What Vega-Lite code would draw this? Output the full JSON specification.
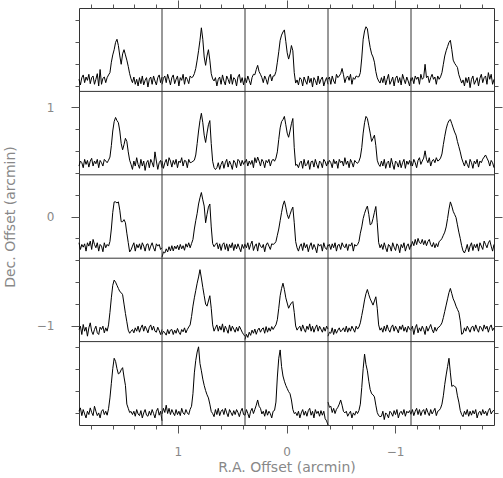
{
"$schema": "https://vega.github.io/schema/vega-lite/v6.json",
"width": 415, "height": 417,
"autosize": {"type": "none"},
"padding": {"left": 79, "top": 8, "right": 9, "bottom": 53},
"config": {
  "view": {"stroke": "#333", "strokeWidth": 1},
  "axis": {"labelColor": "#888", "titleColor": "#888", "tickColor": "#555", "labelFont": "DejaVu Sans", "titleFont": "DejaVu Sans", "labelFontSize": 12, "titleFontSize": 14, "titleFontWeight": "normal", "tickWidth": 1, "domain": false, "grid": false, "labelFlush": false, "labelOverlap": false}
},
"resolve": {"scale": {"x": "independent", "y": "independent"}, "axis": {"x": "independent", "y": "independent"}},
"layer": [
{
  "data": {"values": [
{"ra":1.53,"dec":1.53,"v":[0,1,2,3,4,5,6,7,8,9,10,11,12,13,14,15,16,17,18,19,20,21,22,23,24,25,26,27,28,29,30,31,32,33,34,35,36,37,38,39,40,41,42,43,44,45,46,47,48,49,50,51,52,53,54,55,56,57,58,59],"t":[0.08,-0.19,0.16,0.29,-0.08,0.19,0.03,0.32,-0.13,0.16,0.24,-0.16,0.08,0.35,-0.24,0.55,-0.16,0.13,0.19,-0.08,0.16,0.29,0.4,0.9,1.25,1.5,1.85,2.0,1.7,1.2,0.8,1.3,1.5,1.25,1.0,0.7,0.35,0.1,-0.08,0.19,-0.16,0.08,-0.24,0.16,-0.13,0.24,-0.19,0.03,0.16,-0.29,0.08,0.19,-0.16,0.24,0.0,-0.19,0.16,0.29,-0.08,0.19]},
{"ra":0.76,"dec":1.53,"v":[0,1,2,3,4,5,6,7,8,9,10,11,12,13,14,15,16,17,18,19,20,21,22,23,24,25,26,27,28,29,30,31,32,33,34,35,36,37,38,39,40,41,42,43,44,45,46,47,48,49,50,51,52,53,54,55,56,57,58,59],"t":[-0.16,0.13,0.24,-0.08,0.32,0.08,-0.19,0.16,0.29,-0.13,0.08,0.24,-0.24,0.16,0.03,0.32,-0.16,0.19,0.08,-0.13,0.24,0.16,0.2,0.35,0.6,1.0,1.45,1.95,2.55,2.0,1.15,0.75,1.2,1.5,1.0,0.35,0.1,0.0,0.16,-0.24,0.08,0.19,-0.16,0.29,0.0,-0.19,0.24,0.08,-0.13,0.32,-0.16,0.16,0.08,-0.24,0.19,0.32,-0.08,0.16,-0.19,0.13]},
{"ra":0,"dec":1.53,"v":[0,1,2,3,4,5,6,7,8,9,10,11,12,13,14,15,16,17,18,19,20,21,22,23,24,25,26,27,28,29,30,31,32,33,34,35,36,37,38,39,40,41,42,43,44,45,46,47,48,49,50,51,52,53,54,55,56,57,58,59],"t":[0.16,-0.08,0.24,0.03,-0.19,0.16,0.32,0.3,0.55,0.75,0.45,0.32,0.16,-0.08,0.24,0.08,-0.16,0.19,0.32,0.0,0.24,0.25,0.45,0.9,1.4,1.95,2.2,2.35,2.45,1.9,1.35,1.05,1.3,1.7,1.45,0.4,-0.1,0.05,-0.19,0.16,0.08,-0.24,0.19,0.0,-0.16,0.24,-0.08,0.13,-0.29,0.16,0.03,-0.19,0.24,-0.13,0.08,0.19,-0.24,0.0,0.16,-0.16]},
{"ra":-0.76,"dec":1.53,"v":[0,1,2,3,4,5,6,7,8,9,10,11,12,13,14,15,16,17,18,19,20,21,22,23,24,25,26,27,28,29,30,31,32,33,34,35,36,37,38,39,40,41,42,43,44,45,46,47,48,49,50,51,52,53,54,55,56,57,58,59],"t":[0.08,0.19,-0.16,0.24,0.0,-0.13,0.32,0.16,0.24,0.35,0.6,0.3,-0.08,0.16,0.24,0.03,0.32,-0.16,0.16,0.08,0.24,0.2,0.2,0.4,1.1,2.0,2.4,2.6,2.5,2.0,1.6,1.3,1.15,0.9,0.45,0.15,0.0,-0.1,0.16,-0.08,0.24,-0.19,0.08,0.32,-0.16,0.0,0.19,-0.24,0.13,0.24,-0.08,0.16,-0.19,0.32,0.08,-0.13,0.19,0.0,-0.24,0.16]},
{"ra":-1.53,"dec":1.53,"v":[0,1,2,3,4,5,6,7,8,9,10,11,12,13,14,15,16,17,18,19,20,21,22,23,24,25,26,27,28,29,30,31,32,33,34,35,36,37,38,39,40,41,42,43,44,45,46,47,48,49,50,51,52,53,54,55,56,57,58,59],"t":[0.0,0.16,-0.13,0.24,0.08,0.19,-0.16,0.32,0.08,0.16,0.8,0.16,0.24,-0.08,0.16,0.32,0.08,0.19,-0.16,0.24,0.08,0.2,0.4,0.8,1.2,1.45,1.65,1.85,1.95,1.5,1.0,0.85,0.75,0.65,0.3,0.1,-0.1,0.05,-0.24,0.16,-0.08,0.19,-0.32,0.08,0.24,-0.16,0.0,0.16,-0.24,0.13,0.32,-0.08,0.16,0.24,-0.16,0.4,0.08,0.32,-0.16,0.08]},
{"ra":1.53,"dec":0.76,"v":[0,1,2,3,4,5,6,7,8,9,10,11,12,13,14,15,16,17,18,19,20,21,22,23,24,25,26,27,28,29,30,31,32,33,34,35,36,37,38,39,40,41,42,43,44,45,46,47,48,49,50,51,52,53,54,55,56,57,58,59],"t":[-0.08,0.16,0.08,-0.16,0.24,0.0,0.19,-0.13,0.16,0.29,-0.08,0.16,0.03,0.24,-0.16,0.19,0.08,-0.08,0.24,0.16,0.08,0.2,0.35,0.9,1.6,2.05,2.25,2.1,2.0,1.6,1.0,0.7,0.95,1.25,1.1,0.6,0.2,0.0,-0.24,0.16,-0.08,0.32,0.0,-0.19,0.24,-0.08,0.16,-0.29,0.08,0.19,-0.16,0.24,0.08,-0.13,0.6,0.16,-0.24,0.08,0.19,-0.16]},
{"ra":0.76,"dec":0.76,"v":[0,1,2,3,4,5,6,7,8,9,10,11,12,13,14,15,16,17,18,19,20,21,22,23,24,25,26,27,28,29,30,31,32,33,34,35,36,37,38,39,40,41,42,43,44,45,46,47,48,49,50,51,52,53,54,55,56,57,58,59],"t":[0.16,-0.19,0.08,0.24,-0.08,0.32,0.16,-0.13,0.19,0.0,0.24,-0.16,0.16,0.08,0.32,-0.08,0.19,0.16,-0.16,0.24,0.08,0.1,0.15,0.2,0.45,1.0,1.6,2.1,2.45,2.0,1.4,1.05,1.5,1.9,2.1,1.0,0.15,-0.15,-0.25,-0.16,0.08,-0.24,0.0,0.16,-0.19,0.08,0.24,-0.13,0.16,0.0,-0.24,0.19,0.08,-0.16,0.24,0.16,-0.08,0.19,0.0,0.16]},
{"ra":0,"dec":0.76,"v":[0,1,2,3,4,5,6,7,8,9,10,11,12,13,14,15,16,17,18,19,20,21,22,23,24,25,26,27,28,29,30,31,32,33,34,35,36,37,38,39,40,41,42,43,44,45,46,47,48,49,50,51,52,53,54,55,56,57,58,59],"t":[0.08,0.24,-0.08,0.16,0.0,0.19,-0.16,0.32,0.08,0.35,0.16,-0.08,0.24,0.13,-0.16,0.19,0.08,0.24,-0.08,0.16,0.25,0.15,0.3,0.6,1.2,1.75,2.05,2.15,2.3,1.9,1.5,1.3,1.6,1.95,2.2,0.8,-0.05,0.0,-0.16,0.08,0.16,-0.19,0.24,-0.08,0.0,0.19,-0.24,0.13,0.16,-0.13,0.24,0.0,-0.19,0.16,0.08,-0.16,0.24,0.13,-0.08,0.16]},
{"ra":-0.76,"dec":0.76,"v":[0,1,2,3,4,5,6,7,8,9,10,11,12,13,14,15,16,17,18,19,20,21,22,23,24,25,26,27,28,29,30,31,32,33,34,35,36,37,38,39,40,41,42,43,44,45,46,47,48,49,50,51,52,53,54,55,56,57,58,59],"t":[0.0,0.19,0.08,-0.16,0.24,0.03,0.16,-0.19,0.24,0.08,0.16,-0.08,0.32,0.0,0.16,-0.16,0.24,0.08,-0.13,0.19,0.1,0.05,0.15,0.35,0.8,1.5,2.0,2.3,2.2,1.85,1.5,1.1,1.25,1.4,0.9,0.2,0.0,-0.1,0.16,-0.08,0.24,-0.19,0.08,0.16,-0.16,0.29,0.0,-0.24,0.16,0.08,-0.13,0.19,-0.16,0.08,0.24,-0.19,0.16,0.0,0.19,-0.08]},
{"ra":-1.53,"dec":0.76,"v":[0,1,2,3,4,5,6,7,8,9,10,11,12,13,14,15,16,17,18,19,20,21,22,23,24,25,26,27,28,29,30,31,32,33,34,35,36,37,38,39,40,41,42,43,44,45,46,47,48,49,50,51,52,53,54,55,56,57,58,59],"t":[0.16,-0.08,0.24,0.08,-0.16,0.19,0.32,0.0,0.16,0.3,0.65,0.24,0.08,0.32,-0.08,0.16,0.24,0.08,0.32,0.16,0.2,0.3,0.5,0.95,1.35,1.7,1.95,2.1,2.15,1.95,1.75,1.55,1.4,1.1,0.85,0.6,0.3,0.1,-0.08,0.19,0.0,-0.16,0.24,0.08,-0.19,0.16,0.03,0.24,-0.13,0.16,0.08,0.25,0.35,0.45,0.3,0.16,-0.08,0.19,0.08,-0.16]},
{"ra":1.53,"dec":0,"v":[0,1,2,3,4,5,6,7,8,9,10,11,12,13,14,15,16,17,18,19,20,21,22,23,24,25,26,27,28,29,30,31,32,33,34,35,36,37,38,39,40,41,42,43,44,45,46,47,48,49,50,51,52,53,54,55,56,57,58,59],"t":[0.24,-0.08,0.16,0.03,0.19,-0.16,0.24,0.08,0.32,-0.08,0.4,0.16,0.0,0.24,-0.16,0.16,0.08,-0.19,0.24,0.0,0.16,0.08,0.3,0.9,1.7,2.2,2.2,2.15,2.2,1.8,1.25,1.25,1.35,1.2,0.7,0.25,-0.2,-0.1,0.08,0.24,-0.16,0.16,0.0,0.19,-0.08,0.24,0.08,-0.16,0.16,0.19,-0.13,0.08,0.24,0.0,-0.16,0.19,0.08,0.16,-0.08,0.0]},
{"ra":0.76,"dec":0,"v":[0,1,2,3,4,5,6,7,8,9,10,11,12,13,14,15,16,17,18,19,20,21,22,23,24,25,26,27,28,29,30,31,32,33,34,35,36,37,38,39,40,41,42,43,44,45,46,47,48,49,50,51,52,53,54,55,56,57,58,59],"t":[-0.45,-0.2,-0.25,-0.05,-0.2,0.05,-0.15,0.1,-0.15,0.08,-0.05,0.12,-0.1,0.16,-0.05,0.1,-0.12,0.19,0.03,0.24,0.0,0.2,0.4,0.9,1.3,1.65,2.1,2.4,2.65,2.3,2.0,1.2,1.6,1.95,2.1,1.0,0.2,0.05,0.16,0.24,-0.05,0.19,-0.13,0.16,0.24,-0.08,0.19,-0.16,0.16,0.0,0.24,-0.13,0.16,-0.05,0.19,0.0,-0.19,0.16,-0.03,0.19]},
{"ra":0,"dec":0,"v":[0,1,2,3,4,5,6,7,8,9,10,11,12,13,14,15,16,17,18,19,20,21,22,23,24,25,26,27,28,29,30,31,32,33,34,35,36,37,38,39,40,41,42,43,44,45,46,47,48,49,50,51,52,53,54,55,56,57,58,59],"t":[0.16,0.0,0.24,-0.08,0.16,0.32,-0.13,0.08,0.19,-0.16,0.24,0.08,0.0,0.16,-0.19,0.13,0.24,0.08,-0.08,0.19,0.16,0.2,0.3,0.6,0.9,1.3,1.7,2.05,2.25,1.95,1.6,1.4,1.6,1.8,1.95,1.2,0.3,0.0,-0.16,0.08,0.19,-0.13,0.24,0.0,0.16,-0.19,0.08,0.24,-0.08,0.16,0.0,-0.24,0.19,0.08,0.16,-0.16,0.24,0.0,-0.08,0.16]},
{"ra":-0.76,"dec":0,"v":[0,1,2,3,4,5,6,7,8,9,10,11,12,13,14,15,16,17,18,19,20,21,22,23,24,25,26,27,28,29,30,31,32,33,34,35,36,37,38,39,40,41,42,43,44,45,46,47,48,49,50,51,52,53,54,55,56,57,58,59],"t":[0.08,0.16,-0.08,0.19,0.0,0.24,-0.16,0.13,0.16,-0.08,0.24,0.08,0.0,0.19,-0.13,0.16,0.08,0.24,-0.16,0.16,0.08,0.15,0.3,0.7,1.0,1.4,1.65,1.85,2.0,1.6,1.1,1.15,1.4,1.7,1.98,1.2,0.25,0.0,0.16,-0.08,0.24,0.0,-0.19,0.16,0.08,-0.16,0.24,0.03,-0.13,0.19,0.08,-0.24,0.16,0.0,0.24,-0.16,0.08,0.19,-0.08,0.16]},
{"ra":-1.53,"dec":0,"v":[0,1,2,3,4,5,6,7,8,9,10,11,12,13,14,15,16,17,18,19,20,21,22,23,24,25,26,27,28,29,30,31,32,33,34,35,36,37,38,39,40,41,42,43,44,45,46,47,48,49,50,51,52,53,54,55,56,57,58,59],"t":[0.05,0.3,0.1,0.4,0.15,0.45,0.25,0.2,0.4,0.15,0.35,0.1,0.3,0.4,0.15,0.05,0.25,0.0,0.2,0.05,0.3,0.35,0.45,0.6,0.75,1.0,1.4,1.85,2.2,2.0,1.75,1.6,1.45,1.1,0.75,0.45,0.1,-0.15,-0.25,-0.08,0.16,-0.19,0.08,0.24,-0.13,0.16,0.0,0.19,-0.16,0.24,0.08,-0.08,0.32,0.16,0.0,0.24,0.35,0.08,-0.16,0.16]},
{"ra":1.53,"dec":-0.76,"v":[0,1,2,3,4,5,6,7,8,9,10,11,12,13,14,15,16,17,18,19,20,21,22,23,24,25,26,27,28,29,30,31,32,33,34,35,36,37,38,39,40,41,42,43,44,45,46,47,48,49,50,51,52,53,54,55,56,57,58,59],"t":[0.08,0.24,-0.16,0.32,0.0,0.19,-0.24,0.16,0.4,0.0,-0.16,0.08,0.24,-0.08,-0.16,0.19,0.08,0.24,-0.08,0.16,0.0,0.3,0.9,1.6,2.2,2.45,2.35,2.2,2.05,1.9,1.85,1.75,1.3,0.85,0.45,0.05,-0.1,0.0,0.08,-0.08,0.16,0.0,0.24,-0.05,0.16,0.3,0.0,0.24,0.1,-0.08,0.19,0.3,0.05,0.24,0.0,-0.05,0.19,0.03,-0.16,0.08]},
{"ra":0.76,"dec":-0.76,"v":[0,1,2,3,4,5,6,7,8,9,10,11,12,13,14,15,16,17,18,19,20,21,22,23,24,25,26,27,28,29,30,31,32,33,34,35,36,37,38,39,40,41,42,43,44,45,46,47,48,49,50,51,52,53,54,55,56,57,58,59],"t":[-0.16,0.0,-0.08,-0.19,0.08,-0.13,0.05,0.08,-0.16,0.05,-0.1,0.13,-0.05,-0.16,0.08,-0.03,0.16,-0.08,0.08,0.2,0.3,0.7,1.2,1.6,1.95,2.3,2.6,2.95,2.55,2.1,1.7,1.3,1.2,1.45,1.7,1.1,0.3,0.0,0.16,0.3,0.0,0.24,0.05,0.35,-0.05,0.24,0.08,-0.1,0.3,0.0,0.24,0.1,-0.05,0.19,0.0,0.24,0.1,-0.05,-0.16,-0.25]},
{"ra":0,"dec":-0.76,"v":[0,1,2,3,4,5,6,7,8,9,10,11,12,13,14,15,16,17,18,19,20,21,22,23,24,25,26,27,28,29,30,31,32,33,34,35,36,37,38,39,40,41,42,43,44,45,46,47,48,49,50,51,52,53,54,55,56,57,58,59],"t":[-0.4,-0.15,-0.3,-0.05,-0.2,0.05,-0.1,0.1,-0.15,0.05,0.15,-0.05,0.1,0.16,-0.1,0.22,-0.05,0.16,0.0,0.22,0.08,0.2,0.3,0.55,1.1,1.7,2.05,2.3,2.0,1.6,1.35,1.1,1.25,1.35,1.42,0.9,0.25,0.05,0.16,0.24,0.0,0.3,0.1,-0.05,0.24,0.08,0.35,0.0,0.24,-0.05,0.16,0.3,0.0,0.24,0.1,-0.05,0.19,0.0,0.24,0.1]},
{"ra":-0.76,"dec":-0.76,"v":[0,1,2,3,4,5,6,7,8,9,10,11,12,13,14,15,16,17,18,19,20,21,22,23,24,25,26,27,28,29,30,31,32,33,34,35,36,37,38,39,40,41,42,43,44,45,46,47,48,49,50,51,52,53,54,55,56,57,58,59],"t":[-0.24,-0.05,-0.1,0.16,-0.16,0.1,-0.1,0.05,0.16,-0.03,0.05,0.16,-0.03,0.24,-0.05,0.16,0.0,0.24,0.1,-0.05,0.24,0.1,0.2,0.4,0.75,1.1,1.5,1.8,2.0,1.75,1.55,1.4,1.25,1.45,1.65,1.1,0.3,0.05,0.16,-0.05,0.24,0.0,0.3,0.08,-0.05,0.19,0.3,0.0,0.24,0.1,-0.08,0.24,0.08,0.3,0.0,0.19,-0.05,0.24,0.1,0.03]},
{"ra":-1.53,"dec":-0.76,"v":[0,1,2,3,4,5,6,7,8,9,10,11,12,13,14,15,16,17,18,19,20,21,22,23,24,25,26,27,28,29,30,31,32,33,34,35,36,37,38,39,40,41,42,43,44,45,46,47,48,49,50,51,52,53,54,55,56,57,58,59],"t":[0.08,0.24,-0.16,0.16,0.32,-0.08,0.16,0.0,0.24,0.08,-0.16,0.24,0.0,0.16,0.32,0.08,-0.08,0.19,0.0,0.16,0.2,0.28,0.4,0.65,0.95,1.25,1.55,1.85,2.05,1.8,1.55,1.4,1.2,1.05,0.9,0.5,-0.15,-0.1,0.16,0.0,0.24,0.1,-0.05,0.19,0.24,0.0,0.3,0.1,-0.05,0.24,0.16,0.0,0.3,0.1,0.24,-0.05,0.19,0.3,0.03,0.16]},
{"ra":1.53,"dec":-1.53,"v":[0,1,2,3,4,5,6,7,8,9,10,11,12,13,14,15,16,17,18,19,20,21,22,23,24,25,26,27,28,29,30,31,32,33,34,35,36,37,38,39,40,41,42,43,44,45,46,47,48,49,50,51,52,53,54,55,56,57,58,59],"t":[0.16,0.32,-0.05,0.24,0.03,-0.16,0.16,0.0,0.32,0.1,-0.05,0.4,0.16,-0.05,0.08,-0.16,0.16,0.24,0.0,0.16,-0.03,0.28,0.8,1.5,2.2,2.7,2.55,2.2,1.95,2.0,2.15,2.25,1.8,1.4,0.5,0.3,0.1,0.15,0.0,0.16,-0.08,0.24,0.03,-0.05,0.19,-0.16,0.08,0.24,-0.03,-0.08,0.16,-0.03,0.24,0.05,-0.16,0.16,0.3,-0.03,0.16,-0.3]},
{"ra":0.76,"dec":-1.53,"v":[0,1,2,3,4,5,6,7,8,9,10,11,12,13,14,15,16,17,18,19,20,21,22,23,24,25,26,27,28,29,30,31,32,33,34,35,36,37,38,39,40,41,42,43,44,45,46,47,48,49,50,51,52,53,54,55,56,57,58,59],"t":[0.03,0.3,0.1,0.45,0.05,0.3,0.0,0.24,0.08,-0.05,0.24,0.0,0.16,-0.05,0.3,0.08,0.0,0.24,0.08,0.0,0.25,0.4,1.0,2.0,2.6,3.0,3.25,2.45,2.1,1.7,1.4,1.15,0.95,0.8,0.5,0.15,0.05,-0.1,0.24,0.0,0.3,-0.05,0.16,0.24,0.0,0.3,0.08,-0.1,0.24,0.1,-0.05,0.19,0.0,0.24,0.1,-0.1,0.16,0.3,0.0,-0.03]},
{"ra":0,"dec":-1.53,"v":[0,1,2,3,4,5,6,7,8,9,10,11,12,13,14,15,16,17,18,19,20,21,22,23,24,25,26,27,28,29,30,31,32,33,34,35,36,37,38,39,40,41,42,43,44,45,46,47,48,49,50,51,52,53,54,55,56,57,58,59],"t":[-0.03,0.24,0.05,-0.16,0.16,0.3,0.05,0.25,0.45,0.7,0.4,0.3,0.03,0.16,-0.08,0.24,-0.03,0.16,0.05,-0.16,0.16,0.2,0.6,1.8,2.7,3.1,2.3,1.85,1.6,1.4,1.25,1.1,1.0,0.7,0.25,0.05,0.1,-0.05,0.16,-0.16,0.08,0.24,-0.03,0.16,-0.08,0.19,0.3,-0.03,0.16,-0.16,0.24,0.05,0.16,-0.08,0.19,-0.03,0.16,-0.2,-0.3,-0.5]},
{"ra":-0.76,"dec":-1.53,"v":[0,1,2,3,4,5,6,7,8,9,10,11,12,13,14,15,16,17,18,19,20,21,22,23,24,25,26,27,28,29,30,31,32,33,34,35,36,37,38,39,40,41,42,43,44,45,46,47,48,49,50,51,52,53,54,55,56,57,58,59],"t":[0.6,0.35,0.4,0.1,0.3,0.05,0.25,0.35,0.5,0.7,0.45,0.15,0.08,0.16,-0.08,0.05,0.16,-0.16,0.08,-0.03,0.16,0.05,0.2,0.5,1.3,2.2,2.9,2.4,2.1,1.6,1.2,1.0,0.95,0.85,0.45,0.1,-0.05,-0.1,-0.08,0.16,-0.24,0.08,0.0,-0.16,0.16,0.08,-0.08,0.19,0.0,0.24,-0.16,0.08,0.16,0.0,0.24,-0.08,0.16,0.08,0.19,0.0]},
{"ra":-1.53,"dec":-1.53,"v":[0,1,2,3,4,5,6,7,8,9,10,11,12,13,14,15,16,17,18,19,20,21,22,23,24,25,26,27,28,29,30,31,32,33,34,35,36,37,38,39,40,41,42,43,44,45,46,47,48,49,50,51,52,53,54,55,56,57,58,59],"t":[0.03,0.24,-0.05,0.16,0.3,0.0,0.24,-0.05,0.16,0.24,0.0,0.3,0.1,-0.05,0.24,0.03,0.16,0.3,-0.05,0.16,0.2,0.3,0.5,0.9,1.45,1.9,2.3,2.7,2.0,1.35,1.4,1.35,1.3,0.9,0.6,0.2,0.0,-0.1,0.16,0.0,0.24,-0.08,0.16,-0.03,0.19,0.03,0.24,-0.16,0.08,0.16,-0.03,0.24,0.03,0.16,-0.05,0.19,0.3,0.03,0.16,0.2]}
  ]},
  "transform": [{"flatten": ["v", "t"]}],
  "mark": {"type": "line", "color": "#000", "strokeWidth": 1},
  "encoding": {
    "x": {"field": "ra", "type": "ordinal", "scale": {"type": "band", "domain": [1.53, 0.76, 0, -0.76, -1.53], "paddingInner": 0, "paddingOuter": 0}, "axis": null},
    "xOffset": {"field": "v", "type": "quantitative", "scale": {"domain": [0, 59], "nice": false, "zero": false}},
    "y": {"field": "dec", "type": "ordinal", "scale": {"type": "band", "domain": [1.53, 0.76, 0, -0.76, -1.53], "paddingInner": 0, "paddingOuter": 0}, "axis": null},
    "yOffset": {"field": "t", "type": "quantitative", "scale": {"domain": [-0.5, 3.5], "nice": false, "zero": false, "reverse": true}},
    "detail": [{"field": "ra", "type": "nominal"}, {"field": "dec", "type": "nominal"}],
    "order": {"field": "v", "type": "quantitative"}
  }
},
{
  "data": {"values": [{"b": -1.146}, {"b": -0.382}, {"b": 0.382}, {"b": 1.146}]},
  "mark": {"type": "rule", "color": "#333", "strokeWidth": 1},
  "encoding": {
    "x": {"field": "b", "type": "quantitative", "scale": {"domain": [-1.91, 1.91], "reverse": true, "nice": false, "zero": false},
      "axis": {"orient": "bottom", "values": [-1.8,-1.6,-1.4,-1.2,-1,-0.8,-0.6,-0.4,-0.2,0,0.2,0.4,0.6,0.8,1,1.2,1.4,1.6,1.8], "labelExpr": "datum.value === 0 ? '0' : datum.value === 1 ? '1' : datum.value === -1 ? '−1' : ''", "tickSize": {"condition": {"test": "datum.value === 0 || abs(datum.value) === 1", "value": 8}, "value": 4}, "labelPadding": 13, "titlePadding": 3, "title": "R.A. Offset (arcmin)"}}
  }
},
{
  "data": {"values": [{"b": -1.146}, {"b": -0.382}, {"b": 0.382}, {"b": 1.146}]},
  "mark": {"type": "rule", "color": "#333", "strokeWidth": 1},
  "encoding": {
    "y": {"field": "b", "type": "quantitative", "scale": {"domain": [-1.91, 1.91], "nice": false, "zero": false},
      "axis": {"orient": "left", "values": [-1.8,-1.6,-1.4,-1.2,-1,-0.8,-0.6,-0.4,-0.2,0,0.2,0.4,0.6,0.8,1,1.2,1.4,1.6,1.8], "labelExpr": "datum.value === 0 ? '0' : datum.value === 1 ? '1' : datum.value === -1 ? '−1' : ''", "tickSize": {"condition": {"test": "datum.value === 0 || abs(datum.value) === 1", "value": 8}, "value": 4}, "labelPadding": 17, "titlePadding": 19, "title": "Dec. Offset (arcmin)"}}
  }
},
{
  "data": {"values": [{"b": 0}]},
  "mark": {"type": "point", "opacity": 0},
  "encoding": {
    "x": {"field": "b", "type": "quantitative", "scale": {"domain": [-1.91, 1.91], "reverse": true, "nice": false, "zero": false},
      "axis": {"orient": "top", "values": [-1.8,-1.6,-1.4,-1.2,-1,-0.8,-0.6,-0.4,-0.2,0,0.2,0.4,0.6,0.8,1,1.2,1.4,1.6,1.8], "labels": false, "title": null, "tickSize": {"condition": {"test": "datum.value === 0 || abs(datum.value) === 1", "value": 8}, "value": 4}}},
    "y": {"field": "b", "type": "quantitative", "scale": {"domain": [-1.91, 1.91], "nice": false, "zero": false},
      "axis": {"orient": "right", "values": [-1.8,-1.6,-1.4,-1.2,-1,-0.8,-0.6,-0.4,-0.2,0,0.2,0.4,0.6,0.8,1,1.2,1.4,1.6,1.8], "labels": false, "title": null, "tickSize": {"condition": {"test": "datum.value === 0 || abs(datum.value) === 1", "value": 8}, "value": 4}}}
  }
}
]
}
